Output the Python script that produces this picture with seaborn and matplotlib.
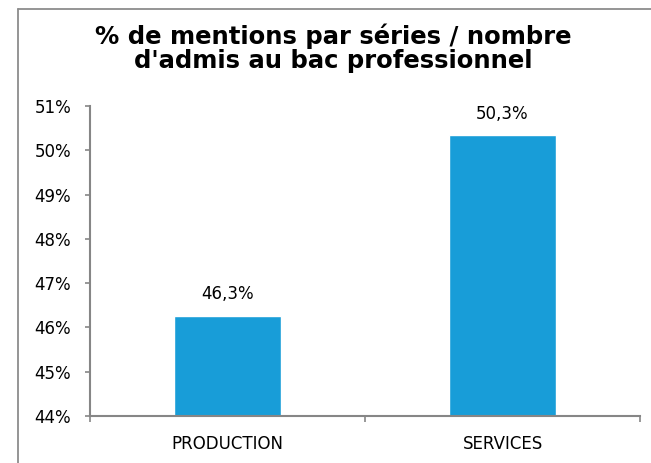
import matplotlib
matplotlib.use("Agg")
import matplotlib.pyplot as plt
import pandas as pd
import seaborn as sns
from matplotlib.lines import Line2D

categories = ["PRODUCTION", "SERVICES"]
values = [46.26, 50.34]
labels = ["46,3%", "50,3%"]
yticks = [44, 45, 46, 47, 48, 49, 50, 51]

df = pd.DataFrame({"serie": categories, "pct": values})

sns.set_style("white")
plt.rcParams["font.family"] = ["DejaVu Sans"]
plt.rcParams["text.color"] = "black"
plt.rcParams["xtick.labelcolor"] = "black"
plt.rcParams["ytick.labelcolor"] = "black"

fig = plt.figure(figsize=(6.51, 4.63), dpi=100)
ax = fig.add_axes([90 / 651, 1 - 416 / 463, 550 / 651, 310 / 463])

sns.barplot(data=df, x="serie", y="pct", color="#189dd8", width=0.39,
            saturation=1, ax=ax)

ax.set_ylim(44, 51)
ax.set_xlim(-0.5, 1.5)
ax.set_yticks(yticks)
ax.set_yticklabels([f"{t}%" for t in yticks], fontsize=12)
ax.set_xticks([0, 1])
ax.set_xticklabels(categories, fontsize=12)
ax.set_xticks([-0.5, 0.5, 1.5], minor=True)
ax.tick_params(axis="x", which="major", bottom=True, length=0, pad=14)
ax.tick_params(axis="x", which="minor", bottom=True, length=4, width=1.2,
               color="#868686", direction="out")
ax.tick_params(axis="y", left=True, length=3.5, width=1.2, color="#868686",
               direction="out", pad=10)
ax.set_xlabel("")
ax.set_ylabel("")

for s in ["top", "right"]:
    ax.spines[s].set_visible(False)
for s in ["left", "bottom"]:
    ax.spines[s].set_color("#868686")
    ax.spines[s].set_linewidth(1.5)

for i, (v, lab) in enumerate(zip(values, labels)):
    ax.annotate(lab, (i, v), xytext=(0, 9), textcoords="offset points",
                ha="center", va="bottom", fontsize=12)

fig.text(333 / 651, 1 - 48 / 463, "% de mentions par séries / nombre\nd'admis au bac professionnel",
         ha="center", va="center", fontsize=17.5, fontweight="bold",
         family=["DejaVu Sans"], linespacing=1.02)

# chart frame (left and top edges visible)
fig.add_artist(Line2D([18 / 651, 18 / 651], [0, 1 - 9 / 463], color="#8c8c8c", lw=1.3,
                      transform=fig.transFigure))
fig.add_artist(Line2D([18 / 651, 1], [1 - 9 / 463, 1 - 9 / 463], color="#8c8c8c", lw=1.3,
                      transform=fig.transFigure))

fig.savefig("out.png", dpi=100)
